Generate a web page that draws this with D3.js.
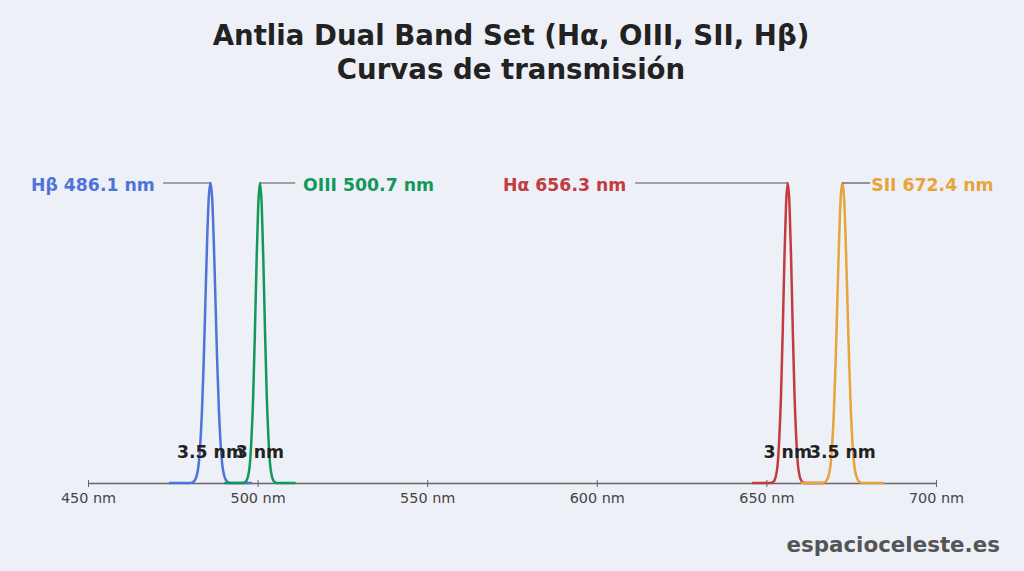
<!DOCTYPE html>
<html>
<head>
<meta charset="utf-8">
<script src="https://cdn.jsdelivr.net/npm/d3@7"></script>
<style>
  html, body { margin: 0; padding: 0; background: #eef0f8; }
  svg { display: block; font-family: "DejaVu Sans", sans-serif; }
</style>
</head>
<body>
<svg id="chart"></svg>
<script>
// filter lines
const filterNames = ["Hβ", "OIII", "Hα", "SII"];
const centersNm = [486.1, 500.7, 656.3, 672.4];
const bandwidthLabels = ["3.5 nm", "3 nm", "3 nm", "3.5 nm"];
const filterColors = ["#4f74d9", "#13985a", "#c23b3f", "#e8a33a"];

// transmission curves, wavelength (nm) / transmission (0..1)
const hbetaNm = [473.85, 480.1, 481.1, 482.1, 482.6, 483.1, 483.6, 484.1, 484.6, 485.1, 485.6, 486.1,
  486.6, 487.1, 487.6, 488.1, 488.6, 489.1, 489.6, 490.1, 491.1, 492.1, 498.35];
const hbetaT = [0, 0, 0.004, 0.027, 0.06, 0.13, 0.24, 0.40, 0.60, 0.80, 0.95, 1,
  0.95, 0.80, 0.60, 0.40, 0.24, 0.13, 0.06, 0.027, 0.004, 0, 0];

const oiiiNm = [490.2, 495.7, 496.2, 496.7, 497.2, 497.7, 498.2, 498.7, 499.2, 499.7, 500.2, 500.7,
  501.2, 501.7, 502.2, 502.7, 503.2, 503.7, 504.2, 504.7, 505.2, 505.7, 511.2];
const oiiiT = [0, 0, 0.002, 0.007, 0.023, 0.06, 0.15, 0.29, 0.50, 0.74, 0.93, 1,
  0.93, 0.74, 0.50, 0.29, 0.15, 0.06, 0.023, 0.007, 0.002, 0, 0];

const halphaNm = [645.8, 651.3, 651.8, 652.3, 652.8, 653.3, 653.8, 654.3, 654.8, 655.3, 655.8, 656.3,
  656.8, 657.3, 657.8, 658.3, 658.8, 659.3, 659.8, 660.3, 660.8, 661.3, 666.8];
const halphaT = [0, 0, 0.002, 0.007, 0.023, 0.06, 0.15, 0.29, 0.50, 0.74, 0.93, 1,
  0.93, 0.74, 0.50, 0.29, 0.15, 0.06, 0.023, 0.007, 0.002, 0, 0];

const siiNm = [660.15, 666.4, 667.4, 668.4, 668.9, 669.4, 669.9, 670.4, 670.9, 671.4, 671.9, 672.4,
  672.9, 673.4, 673.9, 674.4, 674.9, 675.4, 675.9, 676.4, 677.4, 678.4, 684.65];
const siiT = [0, 0, 0.004, 0.027, 0.06, 0.13, 0.24, 0.40, 0.60, 0.80, 0.95, 1,
  0.95, 0.80, 0.60, 0.40, 0.24, 0.13, 0.06, 0.027, 0.004, 0, 0];

const xTicks = [450, 500, 550, 600, 650, 700];

const curves = [
  { nm: hbetaNm, t: hbetaT },
  { nm: oiiiNm, t: oiiiT },
  { nm: halphaNm, t: halphaT },
  { nm: siiNm, t: siiT },
];

// label layout: leader end / text anchor in nm, side of the peak
const labelLayout = [
  { lineEnd: 472.1, textAt: 469.7, anchor: "end" },
  { lineEnd: 511.1, textAt: 513.4, anchor: "start" },
  { lineEnd: 611.3, textAt: 608.7, anchor: "end" },
  { lineEnd: 680.6, textAt: 680.9, anchor: "start" },
];

const w = 1024;
const h = 571;
const svg = d3.select("#chart").attr("width", w).attr("height", h);

svg.append("rect").attr("width", w).attr("height", h).attr("fill", "#eef0f8");

const xScale = d3.scaleLinear().domain([450, 700]).range([88, 936]);
const yScale = d3.scaleLinear().domain([0, 1]).range([483, 183]);

// title
svg.append("text")
  .attr("x", w / 2 - 1)
  .attr("y", 45)
  .attr("text-anchor", "middle")
  .attr("font-size", 27.6)
  .attr("font-weight", "bold")
  .attr("fill", "#222")
  .text("Antlia Dual Band Set (Hα, OIII, SII, Hβ)");
svg.append("text")
  .attr("x", w / 2 - 1)
  .attr("y", 79)
  .attr("text-anchor", "middle")
  .attr("font-size", 27.6)
  .attr("font-weight", "bold")
  .attr("fill", "#222")
  .text("Curvas de transmisión");

// x axis
const xAxis = d3.axisBottom(xScale)
  .tickValues(xTicks)
  .tickSize(4)
  .tickSizeOuter(0)
  .tickPadding(6)
  .tickFormat((d) => d + " nm");
const axisG = svg.append("g")
  .attr("transform", "translate(0," + yScale(0) + ")")
  .call(xAxis);
axisG.select(".domain").attr("stroke", "#666").attr("stroke-width", 1.3);
axisG.selectAll(".tick line").attr("stroke", "#666").attr("y1", -3).attr("y2", 4);
axisG.selectAll(".tick text")
  .attr("font-size", 14.4)
  .attr("font-family", "DejaVu Sans, sans-serif")
  .attr("fill", "#444");

// curves
const line = d3.line()
  .x((d) => xScale(d[0]))
  .y((d) => yScale(d[1]))
  .curve(d3.curveMonotoneX);

curves.forEach((c, i) => {
  svg.append("path")
    .datum(c.nm.map((v, k) => [v, c.t[k]]))
    .attr("d", line)
    .attr("fill", "none")
    .attr("stroke", filterColors[i])
    .attr("stroke-width", 2.5)
    .attr("stroke-linejoin", "round");
});

// leader lines + line labels
centersNm.forEach((c, i) => {
  const lay = labelLayout[i];
  svg.append("line")
    .attr("x1", xScale(c))
    .attr("x2", xScale(lay.lineEnd))
    .attr("y1", yScale(1))
    .attr("y2", yScale(1))
    .attr("stroke", "#555")
    .attr("stroke-width", 1.2);
  svg.append("text")
    .attr("x", xScale(lay.textAt))
    .attr("y", yScale(1) + 8)
    .attr("text-anchor", lay.anchor)
    .attr("font-size", 17.3)
    .attr("font-weight", "bold")
    .attr("fill", filterColors[i])
    .text(filterNames[i] + " " + d3.format(".1f")(c) + " nm");
});

// bandwidth labels
centersNm.forEach((c, i) => {
  svg.append("text")
    .attr("x", xScale(c))
    .attr("y", yScale(0.085))
    .attr("text-anchor", "middle")
    .attr("font-size", 17.3)
    .attr("font-weight", "bold")
    .attr("fill", "#222")
    .text(bandwidthLabels[i]);
});

// watermark
svg.append("text")
  .attr("x", 1000)
  .attr("y", 552)
  .attr("text-anchor", "end")
  .attr("font-size", 21.4)
  .attr("font-weight", "bold")
  .attr("fill", "#555")
  .text("espacioceleste.es");
</script>
</body>
</html>
